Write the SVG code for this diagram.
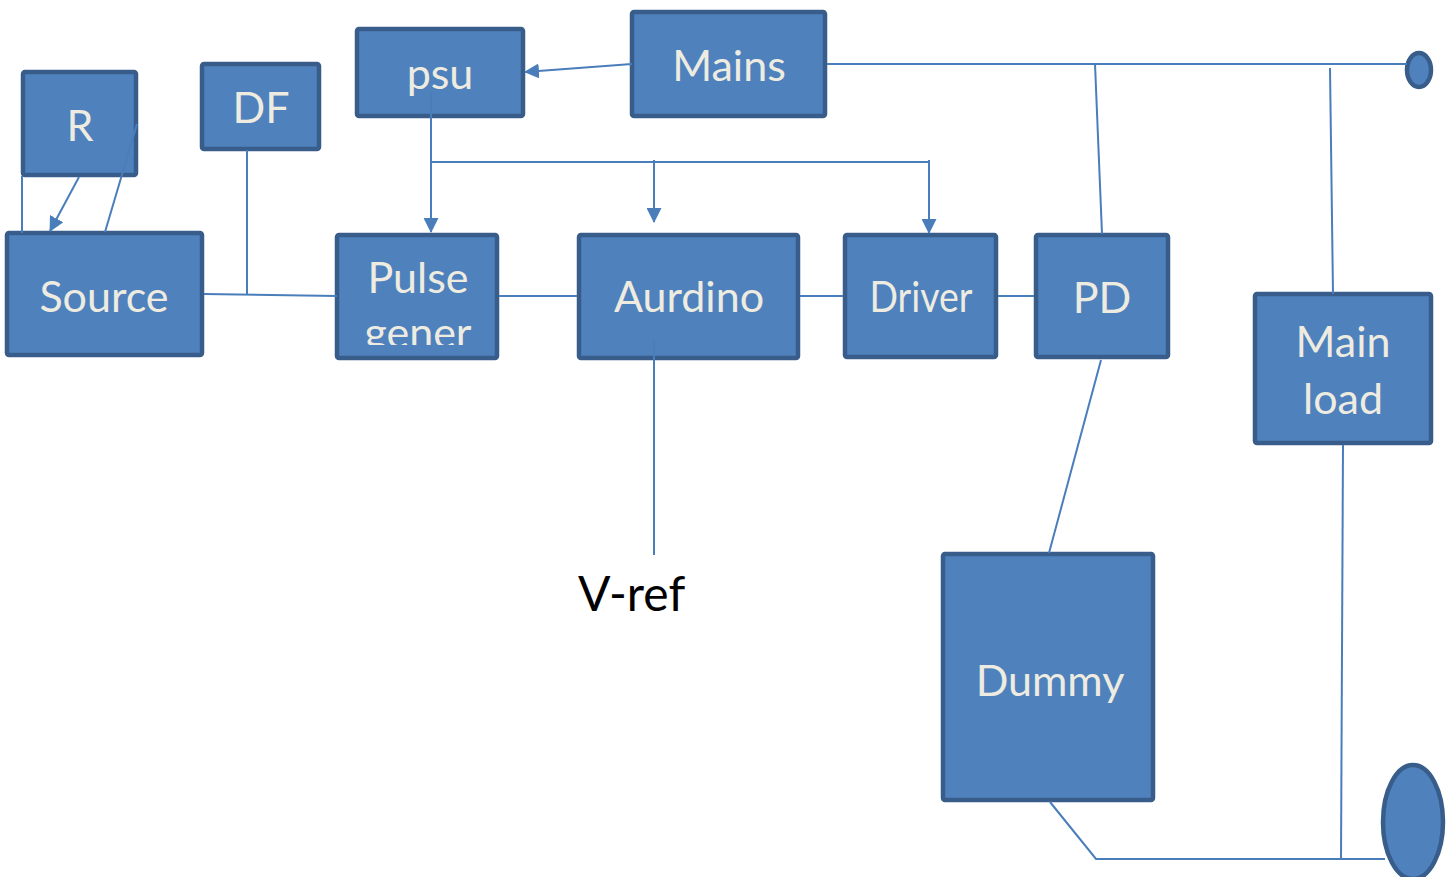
<svg xmlns="http://www.w3.org/2000/svg" width="1453" height="877" viewBox="0 0 1453 877">
  <style>
    .box { fill: #4F81BD; stroke: #385D8A; stroke-width: 4.5; }
    .lbl { font-family: Lato, "Open Sans", sans-serif; font-size: 43px; fill: #EEECE1; text-anchor: middle; }
    .wire { fill: none; stroke: #4A7EBB; stroke-width: 2; }
    .arrow { fill: none; stroke: #4A7EBB; stroke-width: 2; marker-end: url(#head); }
    .plain { font-family: Lato, "Open Sans", sans-serif; font-size: 48px; fill: #000000; }
  </style>
  <defs>
    <marker id="head" viewBox="0 0 15 15" refX="14" refY="7.5" markerWidth="15" markerHeight="15" markerUnits="userSpaceOnUse" orient="auto">
      <path d="M0,0 L15,7.5 L0,15 Z" fill="#4A7EBB"/>
    </marker>
    <clipPath id="pulseClip">
      <rect x="339" y="237" width="156" height="108"/>
    </clipPath>
  </defs>

  <rect width="1453" height="877" fill="#FFFFFF"/>

  <g id="node-r">
    <rect class="box" x="23" y="72" width="113" height="103" rx="2"/>
    <text class="lbl" x="80" y="141">R</text>
  </g>
  <g id="node-df">
    <rect class="box" x="202" y="64" width="117" height="85" rx="2"/>
    <text class="lbl" x="261" y="123">DF</text>
  </g>
  <g id="node-psu">
    <rect class="box" x="357" y="29" width="166" height="87" rx="2"/>
    <text class="lbl" x="440" y="89">psu</text>
  </g>
  <g id="node-mains">
    <rect class="box" x="632" y="12" width="193" height="104" rx="2"/>
    <text class="lbl" x="729" y="81">Mains</text>
  </g>
  <g id="node-source">
    <rect class="box" x="7" y="233" width="195" height="122" rx="2"/>
    <text class="lbl" x="104" y="312">Source</text>
  </g>
  <g id="node-pulse">
    <rect class="box" x="337" y="235" width="160" height="123" rx="2"/>
    <g clip-path="url(#pulseClip)">
      <text class="lbl" x="418" y="293">Pulse</text>
      <text class="lbl" x="418" y="348">gener</text>
    </g>
  </g>
  <g id="node-aurdino">
    <rect class="box" x="579" y="235" width="219" height="123" rx="2"/>
    <text class="lbl" x="689" y="312">Aurdino</text>
  </g>
  <g id="node-driver">
    <rect class="box" x="845" y="235" width="151" height="122" rx="2"/>
    <text class="lbl" x="921" y="312" textLength="103" lengthAdjust="spacingAndGlyphs">Driver</text>
  </g>
  <g id="node-pd">
    <rect class="box" x="1036" y="235" width="132" height="122" rx="2"/>
    <text class="lbl" x="1102" y="313">PD</text>
  </g>
  <g id="node-main-load">
    <rect class="box" x="1255" y="294" width="176" height="149" rx="2"/>
    <text class="lbl" x="1343" y="357">Main</text>
    <text class="lbl" x="1343" y="414">load</text>
  </g>
  <g id="node-dummy">
    <rect class="box" x="943" y="554" width="210" height="246" rx="2"/>
    <text class="lbl" x="1050" y="696">Dummy</text>
  </g>
  <g id="node-terminal-top">
    <ellipse class="box" cx="1419" cy="70" rx="12" ry="17"/>
  </g>
  <g id="node-terminal-bottom">
    <ellipse class="box" cx="1413" cy="822" rx="30" ry="57"/>
  </g>
  <g id="label-vref">
    <text class="plain" x="578" y="611">V-ref</text>
  </g>

  <!-- connectors, drawn over the boxes so their stubs show on the fill -->
  <g id="connectors">
    <!-- mains feed -->
    <line class="arrow" x1="632" y1="64" x2="525" y2="72"/>
    <line class="wire" x1="827" y1="64" x2="1407" y2="64"/>
    <line class="wire" x1="1095" y1="64" x2="1102" y2="234"/>
    <line class="wire" x1="1330" y1="68" x2="1333" y2="294"/>
    <!-- psu distribution -->
    <line class="arrow" x1="431" y1="92" x2="431" y2="232"/>
    <line class="wire" x1="431" y1="162" x2="929" y2="162"/>
    <line class="arrow" x1="654" y1="160" x2="654" y2="222"/>
    <line class="arrow" x1="929" y1="160" x2="929" y2="233"/>
    <!-- R to Source -->
    <line class="wire" x1="22" y1="176" x2="22" y2="233"/>
    <line class="arrow" x1="79" y1="177" x2="50" y2="231" stroke-width="3"/>
    <line class="wire" x1="137" y1="124" x2="105" y2="232"/>
    <!-- signal chain -->
    <line class="wire" x1="204" y1="294" x2="337" y2="296"/>
    <line class="wire" x1="247" y1="150" x2="247" y2="295"/>
    <line class="wire" x1="499" y1="296" x2="577" y2="296"/>
    <line class="wire" x1="800" y1="296" x2="843" y2="296"/>
    <line class="wire" x1="998" y1="296" x2="1034" y2="296"/>
    <line class="wire" x1="654" y1="340" x2="654" y2="555"/>
    <!-- load side -->
    <line class="wire" x1="1101" y1="360" x2="1049" y2="553"/>
    <polyline class="wire" points="1050,802 1096,859 1385,859"/>
    <line class="wire" x1="1343" y1="445" x2="1341" y2="859"/>
  </g>
</svg>
